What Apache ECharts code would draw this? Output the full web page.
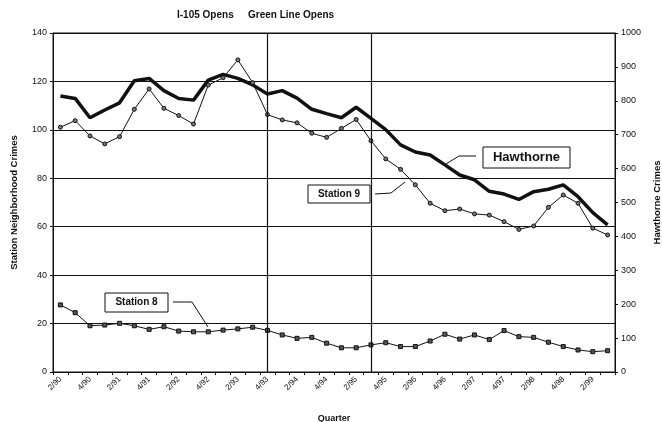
<!DOCTYPE html>
<html>
<head>
<meta charset="utf-8">
<script src="https://cdn.jsdelivr.net/npm/echarts@6/dist/echarts.min.js"></script>
<style>
  html, body { margin: 0; padding: 0; background: #fff; }
  #chart { width: 662px; height: 422px; }
</style>
</head>
<body>
<div id="chart"></div>
<script>
// quarters, label shown on every other one
const quarters = [
  '2/90', '3/90', '4/90', '1/91', '2/91', '3/91', '4/91', '1/92', '2/92', '3/92',
  '4/92', '1/93', '2/93', '3/93', '4/93', '1/94', '2/94', '3/94', '4/94', '1/95',
  '2/95', '3/95', '4/95', '1/96', '2/96', '3/96', '4/96', '1/97', '2/97', '3/97',
  '4/97', '1/98', '2/98', '3/98', '4/98', '1/99', '2/99', '3/99'
]

// left axis
const station9 = [
  101.1, 103.8, 97.5, 94.2, 97.2, 108.5, 116.9, 108.9, 105.9, 102.4,
  118.5, 121.5, 128.9, 119.5, 106.3, 104.1, 102.9, 98.6, 96.9, 100.6,
  104.3, 95.5, 88.0, 83.7, 77.3, 69.7, 66.6, 67.3, 65.3, 64.8,
  62.1, 58.9, 60.3, 68.0, 73.1, 69.7, 59.4, 56.6
]
const station8 = [
  27.7, 24.5, 19.1, 19.4, 20.1, 19.1, 17.6, 18.7, 16.9, 16.6,
  16.6, 17.3, 17.8, 18.5, 17.2, 15.3, 13.9, 14.3, 11.9, 10.0,
  10.0, 11.2, 12.1, 10.5, 10.5, 12.8, 15.6, 13.6, 15.3, 13.4,
  17.1, 14.6, 14.3, 12.3, 10.5, 9.1, 8.4, 8.8
]
// right axis
const hawthorne = [
  814, 807, 750, 773, 794, 859, 866, 830, 807, 802,
  861, 878, 866, 847, 820, 830, 808, 775, 762, 750,
  781, 748, 715, 670, 649, 640, 611, 581, 567, 533,
  525, 509, 532, 539, 552, 517, 470, 434
]

const events = [
  { quarter: '4/93', name: 'I-105 Opens' },
  { quarter: '3/95', name: 'Green Line Opens' }
]

const FONT = '"Liberation Sans", Arial, sans-serif'
const INK = '#111'

const chart = echarts.init(document.getElementById('chart'), null, { renderer: 'canvas' })

function box(x, y, w, h, label, size, weight) {
  return [
    { type: 'rect', shape: { x, y, width: w, height: h },
      style: { fill: '#fff', stroke: INK, lineWidth: 1 }, z: 10 },
    { type: 'text', x: x + w / 2, y: y + h / 2, z: 11,
      style: { text: label, fill: INK, font: `${weight} ${size}px ${FONT}`,
        textAlign: 'center', textVerticalAlign: 'middle' } }
  ]
}

function leader(points) {
  return { type: 'polyline', z: 10, shape: { points },
    style: { stroke: INK, lineWidth: 1, fill: null } }
}

chart.setOption({
  animation: false,
  backgroundColor: '#fff',
  grid: {
    left: 53, right: 47, top: 33, bottom: 50,
    outerBoundsMode: 'none', containLabel: false,
    show: true, borderColor: INK, borderWidth: 1
  },
  xAxis: {
    type: 'category',
    data: quarters,
    boundaryGap: true,
    name: 'Quarter',
    nameLocation: 'middle',
    nameGap: 42,
    nameTextStyle: { fontFamily: FONT, fontSize: 9, fontWeight: 'bold', color: INK },
    axisLine: { lineStyle: { color: INK, width: 1 } },
    axisTick: { show: true, interval: 0, length: 3, lineStyle: { color: INK } },
    axisLabel: { interval: 1, rotate: 45, fontFamily: FONT, fontSize: 8, color: INK, margin: 6 }
  },
  yAxis: [
    {
      type: 'value', min: 0, max: 140, interval: 20,
      name: 'Station Neighborhood Crimes',
      nameLocation: 'middle', nameRotate: 90, nameGap: 34,
      nameTextStyle: { fontFamily: FONT, fontSize: 9.5, fontWeight: 'bold', color: INK },
      axisLine: { show: true, lineStyle: { color: INK } },
      axisTick: { show: true, length: 3, lineStyle: { color: INK } },
      axisLabel: { fontFamily: FONT, fontSize: 9, color: INK, margin: 6 },
      splitLine: { show: true, lineStyle: { color: INK, width: 1 } }
    },
    {
      type: 'value', min: 0, max: 1000, interval: 100,
      name: 'Hawthorne Crimes',
      nameLocation: 'middle', nameRotate: 90, nameGap: 37,
      nameTextStyle: { fontFamily: FONT, fontSize: 9.5, fontWeight: 'bold', color: INK },
      axisLine: { show: true, lineStyle: { color: INK } },
      axisTick: { show: true, length: 3, lineStyle: { color: INK } },
      axisLabel: { fontFamily: FONT, fontSize: 9, color: INK, margin: 6, formatter: v => String(v) },
      splitLine: { show: false }
    }
  ],
  series: [
    {
      name: 'Hawthorne', type: 'line', yAxisIndex: 1, data: hawthorne,
      showSymbol: false, lineStyle: { color: INK, width: 3.5 }, z: 3,
      markLine: {
        silent: true, symbol: 'none', label: { show: false },
        lineStyle: { color: INK, width: 1.2, type: 'solid' },
        data: events.map(e => ({ xAxis: e.quarter }))
      }
    },
    {
      name: 'Station 9', type: 'line', data: station9,
      symbol: 'circle', symbolSize: 4,
      itemStyle: { color: '#777', borderColor: INK, borderWidth: 1 },
      lineStyle: { color: INK, width: 1 }, z: 4
    },
    {
      name: 'Station 8', type: 'line', data: station8,
      symbol: 'rect', symbolSize: 4,
      itemStyle: { color: '#555', borderColor: INK, borderWidth: 1 },
      lineStyle: { color: INK, width: 1 }, z: 4
    }
  ],
  graphic: [
    { type: 'text', x: 177, y: 10, style: { text: events[0].name, fill: INK, font: `bold 10px ${FONT}` } },
    { type: 'text', x: 248, y: 10, style: { text: events[1].name, fill: INK, font: `bold 10px ${FONT}` } },
    ...box(483, 147, 87, 21, 'Hawthorne', 13, 'bold'),
    leader([[476, 156], [459, 156], [446, 164]]),
    ...box(308, 185, 62, 18, 'Station 9', 10, 'bold'),
    leader([[375, 194], [391, 193], [405, 182]]),
    ...box(105, 293, 63, 19, 'Station 8', 10, 'bold'),
    leader([[173, 302], [192, 302], [208, 327]])
  ]
})
</script>
</body>
</html>
